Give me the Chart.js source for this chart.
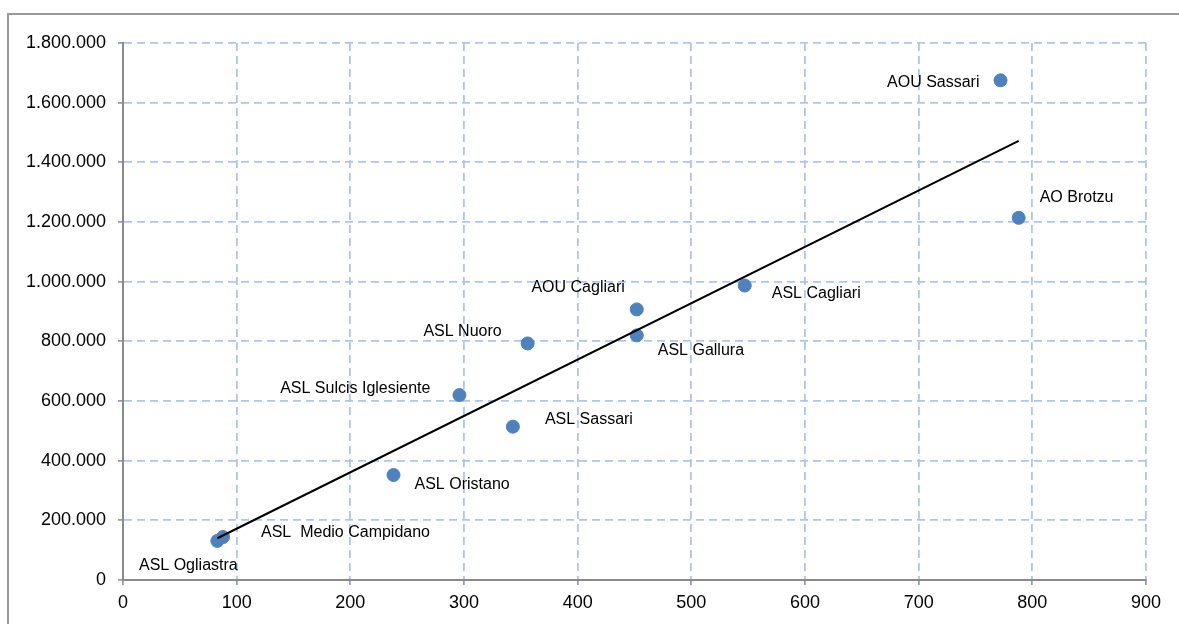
<!DOCTYPE html>
<html>
<head>
<meta charset="utf-8">
<script src="https://cdn.jsdelivr.net/npm/chart.js@4.4.1/dist/chart.umd.min.js"></script>
<style>
  html, body { margin: 0; padding: 0; background: #ffffff; }
  #wrap { position: relative; width: 1179px; height: 624px; overflow: hidden; background: #ffffff; }
  #frame { position: absolute; left: 7px; top: 13px; width: 1220px; height: 700px; border: 2px solid #9a9a9a; box-sizing: border-box; }
  #c { position: absolute; left: 0; top: 0; }
</style>
</head>
<body>
<div id="wrap">
  <div id="frame"></div>
  <canvas id="c" width="1179" height="624"></canvas>
</div>
<script>
// Aziende sanitarie: casi (asse X) e valore (asse Y)
const aziende = [
  'AOU Sassari', 'AO Brotzu', 'ASL Cagliari', 'AOU Cagliari', 'ASL Gallura',
  'ASL Nuoro', 'ASL Sulcis Iglesiente', 'ASL Sassari', 'ASL Oristano',
  'ASL  Medio Campidano', 'ASL Ogliastra'
];
const casi = [772, 788, 547, 452, 452, 356, 296, 343, 238, 88, 83];
const valori = [1675000, 1214000, 987000, 907000, 820000, 793000, 620000, 514000, 352000, 144000, 131000];

// Linea di tendenza (estremi)
const trendX = [83, 788];
const trendY = [140000, 1472000];

// Etichette degli assi
const xTickValues = [0, 100, 200, 300, 400, 500, 600, 700, 800, 900];
const yTickValues = [0, 200000, 400000, 600000, 800000, 1000000, 1200000, 1400000, 1600000, 1800000];
const yTickLabels = ['0', '200.000', '400.000', '600.000', '800.000', '1.000.000', '1.200.000', '1.400.000', '1.600.000', '1.800.000'];

// Posizione delle etichette rispetto al punto
const labelPlacement = {
  'AOU Sassari':           { dx: -21, dy: 2,   align: 'right' },
  'AO Brotzu':             { dx: 21,  dy: -20, align: 'left' },
  'ASL Cagliari':          { dx: 27,  dy: 8,   align: 'left' },
  'AOU Cagliari':          { dx: -12, dy: -22, align: 'right' },
  'ASL Gallura':           { dx: 21,  dy: 15,  align: 'left' },
  'ASL Nuoro':             { dx: -26, dy: -12, align: 'right' },
  'ASL Sulcis Iglesiente': { dx: -29, dy: -6,  align: 'right' },
  'ASL Sassari':           { dx: 32,  dy: -7,  align: 'left' },
  'ASL Oristano':          { dx: 21,  dy: 10,  align: 'left' },
  'ASL  Medio Campidano':  { dx: 38,  dy: -4,  align: 'left' },
  'ASL Ogliastra':         { dx: -29, dy: 25,  align: 'center' }
};

const FONT = "'Liberation Sans', Arial, sans-serif";
const GRID = '#b0c5ec';
const AXIS = '#8a8a8a';

const pointLabels = {
  id: 'pointLabels',
  afterDatasetsDraw(chart) {
    const meta = chart.getDatasetMeta(1);
    const ctx = chart.ctx;
    ctx.save();
    ctx.font = '16px ' + FONT;
    ctx.fillStyle = '#000000';
    ctx.textBaseline = 'middle';
    meta.data.forEach((el, i) => {
      const name = aziende[i];
      const p = labelPlacement[name];
      ctx.textAlign = p.align;
      ctx.fillText(name, el.x + p.dx, el.y + p.dy);
    });
    ctx.restore();
  }
};

const gridOpts = {
  color: GRID,
  lineWidth: 1.8,
  drawTicks: true,
  tickLength: 5,
  tickColor: AXIS,
  tickWidth: 1.5,
  tickBorderDash: []
};

new Chart(document.getElementById('c'), {
  type: 'scatter',
  data: {
    datasets: [
      {
        label: 'Tendenza',
        data: trendX.map((x, i) => ({ x: x, y: trendY[i] })),
        showLine: true,
        borderColor: '#000000',
        borderWidth: 2,
        pointRadius: 0,
        fill: false
      },
      {
        label: 'Aziende',
        data: casi.map((x, i) => ({ x: x, y: valori[i] })),
        backgroundColor: '#4f81bd',
        borderColor: '#4f81bd',
        borderWidth: 1,
        pointRadius: 6.5,
        pointHoverRadius: 6.5
      }
    ]
  },
  options: {
    responsive: false,
    animation: false,
    events: [],
    layout: { padding: { left: 0, top: 43, right: 33, bottom: 0 } },
    plugins: { legend: { display: false }, tooltip: { enabled: false } },
    scales: {
      x: {
        type: 'linear',
        min: 0,
        max: 900,
        afterBuildTicks: (scale) => { scale.ticks = xTickValues.map(v => ({ value: v })); },
        afterFit: (scale) => { scale.height = 44; },
        ticks: {
          font: { family: FONT, size: 18 },
          color: '#000000',
          padding: 7,
          maxRotation: 0,
          callback: (v) => String(v)
        },
        grid: gridOpts,
        border: { display: true, color: AXIS, width: 2, dash: [8, 5] }
      },
      y: {
        type: 'linear',
        min: 0,
        max: 1800000,
        afterBuildTicks: (scale) => { scale.ticks = yTickValues.map(v => ({ value: v })); },
        afterFit: (scale) => { scale.width = 123; },
        ticks: {
          font: { family: FONT, size: 18 },
          color: '#000000',
          padding: 12,
          callback: (v) => yTickLabels[yTickValues.indexOf(v)]
        },
        grid: gridOpts,
        border: { display: true, color: AXIS, width: 2, dash: [8, 5] }
      }
    }
  },
  plugins: [pointLabels]
});
</script>
</body>
</html>
